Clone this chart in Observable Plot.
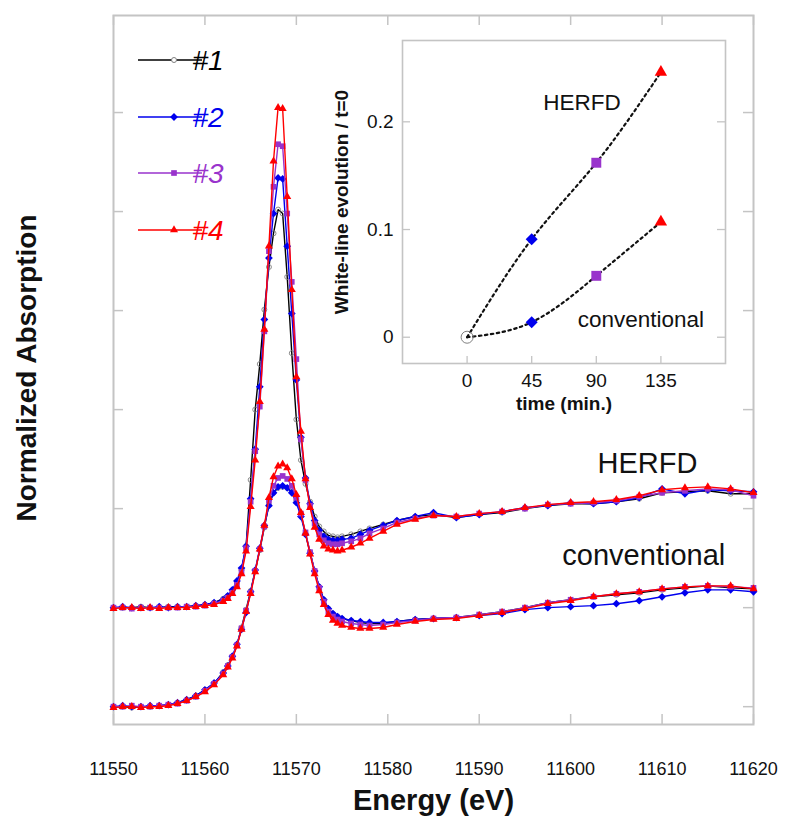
<!DOCTYPE html>
<html><head><meta charset="utf-8">
<script src="https://cdn.jsdelivr.net/npm/d3@7"></script>
<script src="https://cdn.jsdelivr.net/npm/@observablehq/plot@0.6"></script>
<style>
body{margin:0;background:#fff;}
#wrap{position:relative;width:785px;height:819px;font-family:Arial,"Liberation Sans",sans-serif;}
#wrap svg{position:absolute;}
</style></head><body><div id="wrap"></div>
<script>
// ---------- main chart data ----------
const energy = [11550,11551,11552,11553,11554,11555,11556,11557,11558,11559,
  11560,11561,11562,11562.5,11563,11563.5,11564,11564.5,11565,11565.5,
  11566,11566.5,11567,11567.5,11568,11568.5,11569,11569.5,11570,11570.5,
  11571,11571.5,11572,11572.5,11573,11573.5,11574,11574.5,11575,11576,
  11577,11578,11579.5,11581,11583,11585,11587.5,11590,11592.5,11595,
  11597.5,11600,11602.5,11605,11607.5,11610,11612.5,11615,11617.5,11620];

const herfd1 = [0.00,0.00,0.00,0.01,0.00,0.00,0.01,0.01,0.01,0.02,
  0.03,0.05,0.09,0.12,0.17,0.25,0.38,0.62,1.29,2.00,
  2.46,3.01,3.44,3.78,4.02,3.98,3.34,2.57,1.90,1.49,
  1.25,1.07,0.92,0.82,0.77,0.73,0.72,0.71,0.72,0.74,
  0.77,0.80,0.84,0.88,0.92,0.94,0.91,0.94,0.96,1.00,
  1.03,1.05,1.05,1.07,1.10,1.16,1.17,1.18,1.15,1.15];
const herfd2 = [0.00,0.01,0.00,0.00,0.00,0.01,0.00,0.01,0.01,0.02,
  0.03,0.05,0.08,0.12,0.18,0.27,0.40,0.62,1.10,1.60,
  2.23,2.91,3.53,3.98,4.34,4.33,3.65,2.97,2.30,1.72,
  1.31,1.05,0.88,0.78,0.72,0.69,0.68,0.68,0.69,0.70,
  0.74,0.78,0.83,0.88,0.92,0.96,0.91,0.94,0.97,1.01,
  1.03,1.06,1.05,1.07,1.11,1.20,1.15,1.19,1.18,1.17];
const herfd3 = [0.00,0.00,-0.01,0.00,0.00,0.00,0.00,0.00,0.01,0.01,
  0.02,0.04,0.07,0.10,0.15,0.23,0.36,0.60,1.07,1.58,
  2.03,2.79,3.60,4.25,4.68,4.66,3.98,3.29,2.51,1.70,
  1.29,1.03,0.85,0.74,0.68,0.65,0.64,0.64,0.65,0.67,
  0.70,0.75,0.80,0.86,0.90,0.93,0.92,0.95,0.97,1.00,
  1.04,1.05,1.06,1.08,1.12,1.16,1.18,1.20,1.19,1.13];
const herfd4 = [-0.01,0.00,0.00,-0.01,0.00,-0.01,0.00,0.00,0.00,0.01,
  0.02,0.03,0.06,0.09,0.14,0.21,0.34,0.57,1.02,1.49,
  2.08,2.81,3.65,4.51,5.05,5.04,4.15,3.21,2.33,1.78,
  1.30,1.01,0.81,0.69,0.62,0.59,0.58,0.57,0.58,0.61,
  0.65,0.70,0.77,0.84,0.89,0.93,0.92,0.95,0.97,1.01,
  1.04,1.06,1.07,1.09,1.13,1.19,1.21,1.22,1.20,1.16];

const conv1 = [0.00,0.00,-0.01,0.00,0.00,0.01,0.02,0.04,0.07,0.11,
  0.17,0.23,0.35,0.42,0.50,0.62,0.80,0.98,1.17,1.37,
  1.58,1.81,2.04,2.16,2.21,2.22,2.21,2.17,2.08,1.94,
  1.75,1.56,1.37,1.21,1.08,0.99,0.94,0.91,0.89,0.87,
  0.85,0.84,0.84,0.86,0.88,0.89,0.90,0.93,0.96,1.00,
  1.05,1.08,1.11,1.13,1.15,1.18,1.20,1.22,1.20,1.19];
const conv2 = [0.00,0.01,0.00,0.00,0.01,0.01,0.02,0.04,0.07,0.11,
  0.17,0.24,0.34,0.41,0.51,0.63,0.78,0.95,1.16,1.38,
  1.60,1.83,2.03,2.16,2.22,2.23,2.21,2.16,2.06,1.92,
  1.74,1.55,1.37,1.21,1.08,0.99,0.94,0.91,0.89,0.87,
  0.86,0.85,0.85,0.86,0.88,0.89,0.90,0.92,0.94,0.98,
  1.00,1.01,1.02,1.04,1.07,1.11,1.15,1.18,1.18,1.16];
const conv3 = [0.00,0.00,0.01,0.00,0.00,0.01,0.02,0.03,0.06,0.10,
  0.16,0.23,0.33,0.41,0.50,0.62,0.79,0.97,1.15,1.37,
  1.59,1.82,2.08,2.23,2.31,2.33,2.30,2.23,2.11,1.95,
  1.76,1.56,1.37,1.20,1.06,0.96,0.91,0.88,0.86,0.84,
  0.83,0.82,0.83,0.85,0.87,0.89,0.90,0.93,0.96,1.00,
  1.05,1.08,1.11,1.14,1.16,1.19,1.21,1.22,1.21,1.20];
const conv4 = [-0.01,0.00,0.00,-0.01,0.00,0.00,0.01,0.03,0.06,0.10,
  0.15,0.22,0.32,0.40,0.49,0.61,0.78,0.96,1.14,1.36,
  1.59,1.83,2.11,2.32,2.43,2.45,2.41,2.30,2.14,1.96,
  1.75,1.54,1.34,1.17,1.03,0.93,0.87,0.84,0.82,0.80,
  0.79,0.79,0.80,0.83,0.86,0.88,0.89,0.92,0.95,0.99,
  1.04,1.07,1.11,1.14,1.16,1.19,1.21,1.22,1.22,1.19];

const samples = ["#1","#2","#3","#4"];
const herfdOffset = 1.0;
const xTicks = [11550,11560,11570,11580,11590,11600,11610,11620];
const yTicks = [0,1,2,3,4,5,6];

// ---------- inset data ----------
const time = [0,45,90,135];
const wlHERFD = [0,0.091,0.162,0.246];
const wlConv = [0,0.014,0.057,0.107];
const wlTicks = [0,0.1,0.2];

// ---------- styles ----------
const colors = ["#000000","#0000ee","#9933cc","#ff0000"];
const symbols = ["circle","diamond2","square","triangle"];
const rMain = [2.5,3.5,3.2,3.0];
const rInset = [6,5.4,5.6,4.6];
const font = "Arial, 'Liberation Sans', sans-serif";
const gray = "#c4c4c4";

const herfd = [herfd1,herfd2,herfd3,herfd4];
const conv = [conv1,conv2,conv3,conv4];

const seriesData = samples.map((s,i) => {
  const out = [];
  energy.forEach((e,j) => out.push({sample:s, mode:"HERFD", e, v: herfd[i][j] + herfdOffset}));
  energy.forEach((e,j) => out.push({sample:s, mode:"conventional", e, v: conv[i][j]}));
  return out;
});

const W = 785, H = 819, mL = 113, mR = 32, mT = 15, mB = 95;
const fw = W - mL - mR, fh = H - mT - mB;

const seriesMarks = [];
seriesData.forEach((d,i) => {
  seriesMarks.push(Plot.line(d, {x:"e", y:"v", z:"mode", stroke: colors[i], strokeWidth: 1.4}));
  seriesMarks.push(Plot.dot(d, {x:"e", y:"v", symbol: symbols[i], r: rMain[i],
    fill: i === 0 ? "none" : colors[i], stroke: i === 0 ? "#808080" : "none", strokeWidth: 0.9}));
});

const main = Plot.plot({
  width: W, height: H, marginLeft: mL, marginRight: mR, marginTop: mT, marginBottom: mB,
  x: {domain: [11550, 11620]},
  y: {domain: [-0.18, 6.98], axis: null},
  style: {fontFamily: font, background: "white", overflow: "visible"},
  marks: [
    Plot.frame({stroke: gray, strokeWidth: 2}),
    Plot.ruleX(xTicks, {x: d => d, insetBottom: fh - 10, stroke: gray, strokeWidth: 1.5}),
    Plot.ruleX(xTicks, {x: d => d, insetTop: fh - 10, stroke: gray, strokeWidth: 1.5}),
    Plot.ruleY(yTicks, {y: d => d, insetRight: fw - 10, stroke: gray, strokeWidth: 1.5}),
    Plot.ruleY(yTicks, {y: d => d, insetLeft: fw - 10, stroke: gray, strokeWidth: 1.5}),
    Plot.axisX({ticks: xTicks, tickSize: 0, tickPadding: 38, fontSize: 18, label: null,
      tickFormat: d => String(d), fill: "#111"}),
    ...seriesMarks,
    Plot.text(["HERFD"], {x: 11608.4, y: 2.45, text: d => d, fontSize: 29, fill: "#111"}),
    Plot.text(["conventional"], {x: 11608.0, y: 1.52, text: d => d, fontSize: 29, fill: "#111"}),
    Plot.text(["Energy (eV)"], {frameAnchor: "bottom", dy: 85, text: d => d, fontSize: 29, fontWeight: "bold", fill: "#111"}),
    Plot.text(["Normalized Absorption"], {frameAnchor: "left", dx: -86, dy: -2, rotate: -90, textAnchor: "middle",
      text: d => d, fontSize: 28, fontWeight: "bold", fill: "#111"})
  ]
});
main.style.left = "0px"; main.style.top = "0px";
document.getElementById("wrap").appendChild(main);

// legend (inside the frame, upper left)
const lg = d3.select(main).append("g");
const legY = [60, 117, 173, 230];
const symMap = {circle: d3.symbolCircle, diamond2: d3.symbolDiamond2, square: d3.symbolSquare, triangle: d3.symbolTriangle};
samples.forEach((s,i) => {
  const g = lg.append("g").attr("transform", `translate(0,${legY[i]})`);
  g.append("line").attr("x1",138).attr("x2",202).attr("y1",0).attr("y2",0)
    .attr("stroke", colors[i]).attr("stroke-width",1.6);
  g.append("path").attr("transform","translate(174,0)")
    .attr("d", d3.symbol(symMap[symbols[i]], Math.PI * rMain[i] * rMain[i])())
    .attr("fill", i === 0 ? "white" : colors[i]).attr("stroke", i === 0 ? "#808080" : "none");
  g.append("text").attr("x",208).attr("y",0).attr("dy","0.36em")
    .attr("font-size",28).attr("font-style","italic").attr("font-family",font)
    .attr("fill",colors[i]).text(s);
});

// ---------- inset ----------
const insetPts = time.map((t,k) => ({t, h: wlHERFD[k], c: wlConv[k], k}));
const iW = 410, iH = 400, iL = 77, iR = 10, iT = 10, iB = 67;
const ifw = iW - iL - iR, ifh = iH - iT - iB;
const insetDots = [];
[0,1,2,3].forEach(k => {
  const d = insetPts.filter(p => p.k === k);
  const opts = {x:"t", symbol: symbols[k], r: rInset[k],
    fill: k === 0 ? "none" : colors[k], stroke: k === 0 ? "#808080" : "none", strokeWidth: 1};
  insetDots.push(Plot.dot(d, {...opts, y:"h"}));
  if (k > 0) insetDots.push(Plot.dot(d, {...opts, y:"c"}));
});
const inset = Plot.plot({
  width: iW, height: iH, marginLeft: iL, marginRight: iR, marginTop: iT, marginBottom: iB,
  x: {domain: [-45, 180]},
  y: {domain: [-0.0244, 0.2755]},
  style: {fontFamily: font, background: "transparent", overflow: "visible"},
  marks: [
    Plot.frame({stroke: gray, strokeWidth: 1.6}),
    Plot.ruleX(time, {x: d => d, insetTop: ifh - 7, stroke: gray, strokeWidth: 1.3}),
    Plot.ruleY(wlTicks, {y: d => d, insetRight: ifw - 8, stroke: gray, strokeWidth: 1.3}),
    Plot.ruleY(wlTicks, {y: d => d, insetLeft: ifw - 8, stroke: gray, strokeWidth: 1.3}),
    Plot.axisX({ticks: time, tickSize: 0, tickPadding: 10, fontSize: 19, label: null, tickFormat: d => String(d), fill: "#111"}),
    Plot.axisY({ticks: wlTicks, tickSize: 0, tickPadding: 9, fontSize: 19, label: null, tickFormat: d => String(d), fill: "#111"}),
    Plot.line(insetPts, {x:"t", y:"h", curve:"natural", stroke:"#111", strokeWidth:2.2, strokeDasharray:"2.4,3.6"}),
    Plot.line(insetPts, {x:"t", y:"c", curve:"natural", stroke:"#111", strokeWidth:2.2, strokeDasharray:"2.4,3.6"}),
    ...insetDots,
    Plot.text(["HERFD"], {x: 80, y: 0.218, text: d => d, fontSize: 22.5, fill: "#111"}),
    Plot.text(["conventional"], {x: 121, y: 0.016, text: d => d, fontSize: 22.5, fill: "#111"}),
    Plot.text(["time (min.)"], {frameAnchor: "bottom", dy: 46, text: d => d, fontSize: 19, fontWeight: "bold", fill: "#111"}),
    Plot.text(["White-line evolution / t=0"], {frameAnchor: "left", dx: -61, rotate: -90, textAnchor: "middle",
      text: d => d, fontSize: 19, fontWeight: "bold", fill: "#111"})
  ]
});
inset.style.left = "325px"; inset.style.top = "30px";
document.getElementById("wrap").appendChild(inset);
</script>
</body></html>
